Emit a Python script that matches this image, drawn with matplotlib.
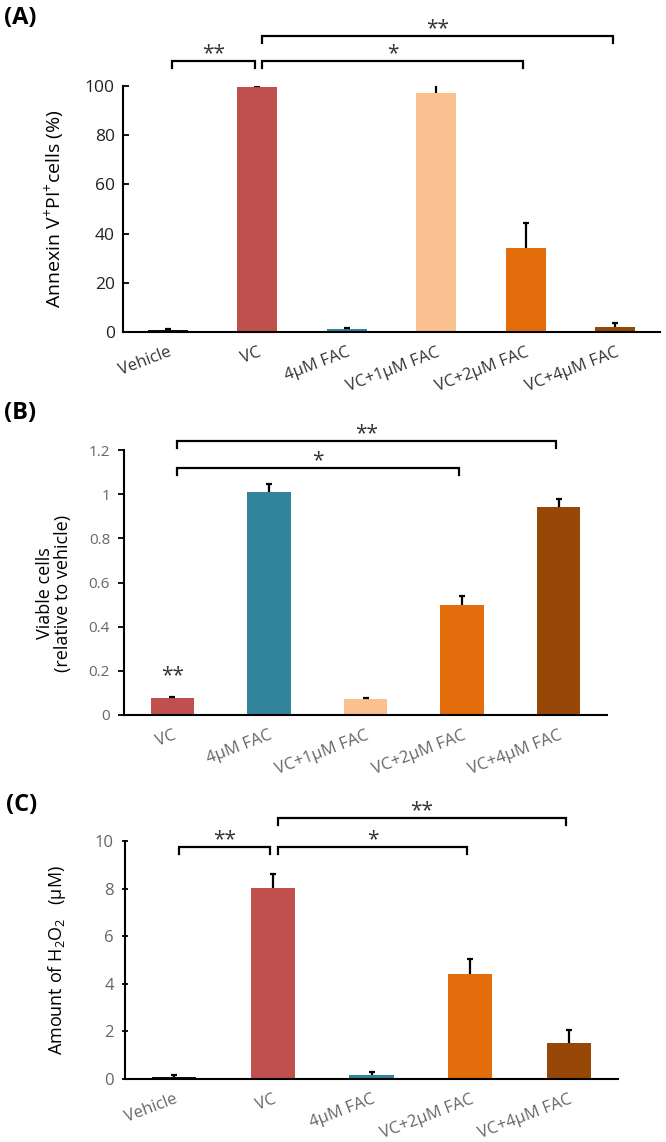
import matplotlib
matplotlib.use("Agg")
import matplotlib.pyplot as plt

plt.rcParams['font.family'] = ['Open Sans', 'DejaVu Sans']
plt.rcParams['mathtext.default'] = 'regular'

# (A) Annexin V+PI+ cells (%)
cats_a = ['Vehicle', 'VC', '4μM FAC', 'VC+1μM FAC', 'VC+2μM FAC', 'VC+4μM FAC']
vals_a = [0.8, 99.6, 1.2, 97.2, 34.2, 2.1]
errs_a = [0.5, 0.4, 0.6, 4.0, 10.1, 1.4]
cols_a = ['#111111', '#C0504D', '#31849B', '#FAC090', '#E46C0A', '#974706']
sig_a = [(0, 1, 110.2, '**'), (1, 4, 110.2, '*'), (1, 5, 120.3, '**')]

# (B) viable cells relative to vehicle
cats_b = ['VC', '4μM FAC', 'VC+1μM FAC', 'VC+2μM FAC', 'VC+4μM FAC']
vals_b = [0.077, 1.01, 0.072, 0.498, 0.942]
errs_b = [0.005, 0.036, 0.005, 0.041, 0.036]
cols_b = ['#C0504D', '#31849B', '#FAC090', '#E46C0A', '#974706']
sig_b = [(0, 4, 1.241, '**'), (0, 3, 1.119, '*')]

# (C) H2O2 (uM)
cats_c = ['Vehicle', 'VC', '4μM FAC', 'VC+2μM FAC', 'VC+4μM FAC']
vals_c = [0.1, 8.02, 0.17, 4.41, 1.53]
errs_c = [0.05, 0.6, 0.13, 0.62, 0.53]
cols_c = ['#111111', '#C0504D', '#31849B', '#E46C0A', '#974706']
sig_c = [(0, 1, 9.75, '**'), (1, 3, 9.75, '*'), (1, 4, 10.97, '**')]

W, H = 666, 1142
fig = plt.figure(figsize=(W / 100, H / 100), dpi=100)


def px_axes(left, right, top, bottom):
    return fig.add_axes([left / W, 1 - bottom / H, (right - left) / W, (bottom - top) / H])


def draw_panel(ax, cats, vals, errs, cols, sigs, ylim, yticks, tick_color, tick_size, tickdir):
    x = list(range(len(cats)))
    ax.bar(x, vals, width=0.45, color=cols, zorder=2)
    eb = ax.errorbar(x, vals, yerr=[[0] * len(errs), errs], fmt='none', ecolor='black',
                     elinewidth=1.6, capsize=2.5, capthick=1.6, zorder=3)
    # only the upper cap is shown
    eb[1][0].set_visible(False)
    ax.set_xlim(-0.5, len(cats) - 0.5)
    ax.set_ylim(*ylim)
    ax.set_yticks(yticks)
    for s in ['top', 'right']:
        ax.spines[s].set_visible(False)
    for s in ['left', 'bottom']:
        ax.spines[s].set_linewidth(1.5)
    ax.tick_params(axis='y', direction=tickdir, length=4, width=1.3,
                   labelsize=tick_size, labelcolor=tick_color, pad=6)
    ax.tick_params(axis='x', length=0, pad=9)
    ax.set_xticks(x)
    ax.set_xticklabels(cats, rotation=21, ha='right', va='top', rotation_mode='anchor',
                       fontsize=12, color=tick_color)

    # significance brackets
    hpx = ax.get_window_extent().height
    tick = 7 * (ylim[1] - ylim[0]) / hpx
    for i, j, y, lab in sigs:
        x1, x2 = i + 0.05, j - 0.03
        ax.plot([x1, x1, x2, x2], [y - tick, y, y, y - tick], color='black',
                lw=1.6, clip_on=False, solid_joinstyle='miter')
        ax.annotate(lab, xy=((x1 + x2) / 2, y), xytext=(0, 1), textcoords='offset points',
                    ha='center', va='baseline', fontsize=15, color='#333333',
                    annotation_clip=False)


ax_a = px_axes(123, 660, 86, 332)
draw_panel(ax_a, cats_a, vals_a, errs_a, cols_a, sig_a, (0, 100), [0, 20, 40, 60, 80, 100],
           '#222222', 12.5, 'in')
ax_a.set_ylabel('Annexin V$^{+}$PI$^{+}$cells (%)', fontsize=14)
ax_a.yaxis.set_label_coords(-0.127, 0.5)
ax_a.yaxis.label.set_va('center')
for t in ax_a.get_xticklabels():
    t.set_color('#333333')

ax_b = px_axes(124, 607, 450, 715)
draw_panel(ax_b, cats_b, vals_b, errs_b, cols_b, sig_b, (0, 1.2),
           [0, 0.2, 0.4, 0.6, 0.8, 1.0, 1.2], '#666666', 11, 'out')
ax_b.set_yticklabels(['0', '0.2', '0.4', '0.6', '0.8', '1', '1.2'])
ax_b.set_ylabel('Viable cells\n(relative to vehicle)', fontsize=13, linespacing=1.05)
ax_b.yaxis.set_label_coords(-0.145, 0.46)
ax_b.yaxis.label.set_va('center')
ax_b.text(0, 0.155, '**', ha='center', va='baseline', fontsize=15, color='#333333')

ax_c = px_axes(125, 618, 841, 1079)
draw_panel(ax_c, cats_c, vals_c, errs_c, cols_c, sig_c, (0, 10), [0, 2, 4, 6, 8, 10],
           '#666666', 12, 'inout')
ax_c.set_ylabel('Amount of H$_{2}$O$_{2}$   (μM)', fontsize=13)
ax_c.yaxis.set_label_coords(-0.138, 0.5)
ax_c.yaxis.label.set_va('center')

for lab, xp, yp in [('(A)', 4, 18), ('(B)', 4, 413), ('(C)', 6, 805)]:
    fig.text(xp / W, 1 - yp / H, lab, fontsize=17, fontweight='bold', ha='left', va='center')

fig.savefig('out.png', dpi=100)
